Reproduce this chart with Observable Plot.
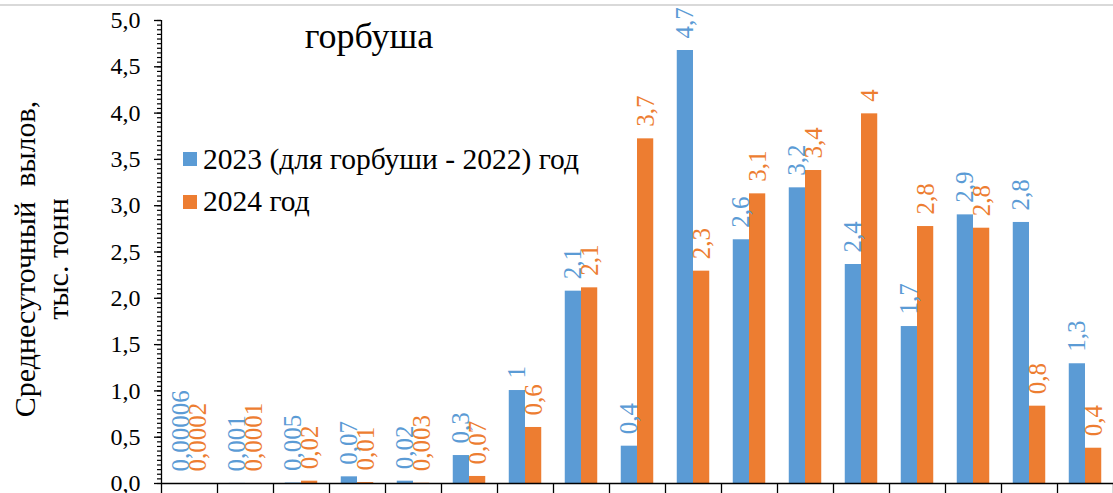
<!DOCTYPE html>
<html>
<head>
<meta charset="utf-8">
<script src="https://cdn.jsdelivr.net/npm/d3@7"></script>
<script src="https://cdn.jsdelivr.net/npm/@observablehq/plot@0.6"></script>
</head>
<body style="margin:0;background:#fff">
<div id="wrap" style="position:relative;width:1113px;height:493px;overflow:hidden;font-family:'Liberation Serif'">
  <div style="position:absolute;left:0;top:4px;width:1113px;border-top:2px solid #d9d9d9"></div>
  <div id="chart"></div>
  <div id="title" style="position:absolute;left:369px;top:15px;transform:translateX(-50%);font-family:'Liberation Serif';font-size:36px;color:#000;white-space:nowrap"></div>
  <div id="legend" style="position:absolute;left:183px;top:138px;font-family:'Liberation Serif'"></div>
</div>
<script>
// ---- data ----
const chartTitle = "горбуша";
const yTitle = "Среднесуточный\u00a0 вылов,\nтыс. тонн";
const periods = [1, 2, 3, 4, 5, 6, 7, 8, 9, 10, 11, 12, 13, 14, 15, 16, 17];
const series = ["2023 (для горбуши - 2022) год", "2024 год"];
const colors = ["#5b9bd5", "#ed7d31"];
const values2023 = [0.00006, 0.001, 0.005, 0.072, 0.025, 0.302, 1.004, 2.077, 0.403, 4.676, 2.632, 3.193, 2.365, 1.695, 2.901, 2.819, 1.293];
const values2024 = [0.0002, 0.0001, 0.025, 0.01, 0.003, 0.076, 0.605, 2.113, 3.722, 2.293, 3.128, 3.38, 3.992, 2.775, 2.757, 0.835, 0.381];
const labels2023 = ["0,00006", "0,001", "0,005", "0,07", "0,02", "0,3", "1", "2,1", "0,4", "4,7", "2,6", "3,2", "2,4", "1,7", "2,9", "2,8", "1,3"];
const labels2024 = ["0,0002", "0,0001", "0,02", "0,01", "0,003", "0,07", "0,6", "2,1", "3,7", "2,3", "3,1", "3,4", "4", "2,8", "2,8", "0,8", "0,4"];
const yTicks = [0, 0.5, 1, 1.5, 2, 2.5, 3, 3.5, 4, 4.5, 5];

// ---- build table ----
const FONT = "Liberation Serif";
const barShare = 0.29; // share of a category slot taken by one bar
const valueSets = [values2023, values2024];
const labelSets = [labels2023, labels2024];
const rows = periods.flatMap((p, i) => series.map((s, k) => ({
  i, k, s,
  v: valueSets[k][i],
  label: labelSets[k][i]
})));
const left = d => d.i + 0.5 - barShare + d.k * barShare;
const boundaries = d3.range(periods.length + 1);
const minorTicks = d3.range(0, 101).map(d => d * 0.05);
const fmt = d => d.toFixed(1).replace(".", ",");
const blank = () => "";

const chart = Plot.plot({
  width: 1113,
  height: 493,
  marginTop: 20,
  marginBottom: 10,
  marginLeft: 161,
  marginRight: 0,
  style: { fontFamily: FONT, fontSize: "24px" },
  x: { domain: [0, periods.length], label: null },
  y: { domain: [0, 5], label: null },
  color: { domain: series, range: colors },
  marks: [
    Plot.rectY(rows, { x1: left, x2: d => left(d) + barShare, y: "v", fill: "s" }),
    Plot.ruleY([0], { stroke: "#000", strokeWidth: 1.3 }),
    Plot.ruleX([0], { stroke: "#000", strokeWidth: 1.3 }),
    Plot.axisY({ ticks: minorTicks, tickSize: 4, tickFormat: blank, strokeWidth: 1.2, label: null }),
    Plot.axisY({ ticks: yTicks, tickSize: 7, tickPadding: 14, tickFormat: fmt, fontSize: 24, fontFamily: FONT, strokeWidth: 1.3, label: null }),
    Plot.axisX({ ticks: boundaries, tickSize: 10, tickFormat: blank, strokeWidth: 1.3, label: null }),
    Plot.text(rows, {
      x: d => left(d) + barShare / 2,
      y: "v",
      text: "label",
      fill: "s",
      rotate: -90,
      textAnchor: "start",
      lineAnchor: "middle",
      dy: -12,
      fontSize: 25,
      fontFamily: FONT
    }),
    Plot.text([yTitle], {
      frameAnchor: "left",
      rotate: -90,
      dx: -121,
      dy: 7,
      fontSize: 30,
      fontFamily: FONT,
      lineHeight: 1.1,
      textAnchor: "middle",
      lineAnchor: "middle",
      fill: "#000"
    })
  ]
});
chart.style.display = "block";
document.getElementById("chart").appendChild(chart);

document.getElementById("title").textContent = chartTitle;
const legend = document.getElementById("legend");
series.forEach((s, k) => {
  const item = document.createElement("div");
  item.style.cssText = "display:flex;align-items:center;height:42.5px;font-size:29.5px;color:#000;white-space:nowrap;font-family:'Liberation Serif'";
  const sw = document.createElement("span");
  sw.style.cssText = "display:inline-block;width:14px;height:14px;margin-right:6px;background:" + colors[k];
  const t = document.createElement("span");
  t.textContent = s;
  item.appendChild(sw);
  item.appendChild(t);
  legend.appendChild(item);
});
</script>
</body>
</html>
